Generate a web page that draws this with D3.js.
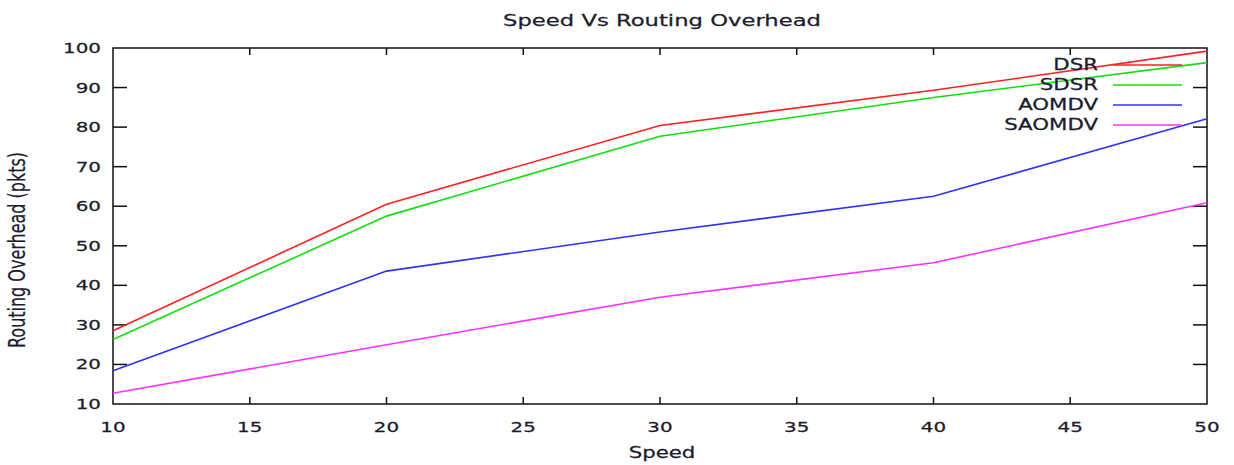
<!DOCTYPE html>
<html lang="en">
<head>
    <meta charset="UTF-8">
    <title>Speed Vs Routing Overhead</title>
    <style>
        body{margin:0;background:#fff;}
        text{font-family:"DejaVu Sans",Verdana,sans-serif;fill:#1c1c2e;stroke:#1c1c2e;stroke-width:0.25px;}
    </style>
</head>
<body>
<script src="https://cdn.jsdelivr.net/npm/d3@7/dist/d3.min.js"></script>
<script>
    // data
    var speeds=[10,20,30,40,50];
    var dsr=[28.5,60.5,80.4,89.3,99.2];
    var sdsr=[26.3,57.5,77.7,87.5,96.3];
    var aomdv=[18.4,43.6,53.5,62.5,82.1];
    var saomdv=[12.7,25.0,37.0,45.7,60.9];
    var seriesNames=["DSR","SDSR","AOMDV","SAOMDV"];
    var xTicks=[10,15,20,25,30,35,40,45,50];
    var yTicks=[10,20,30,40,50,60,70,80,90,100];

    var colors=["#ff2020","#10e010","#3030ff","#ff30ff"];
    var allSeries=[dsr,sdsr,aomdv,saomdv];

    var width=1234, height=465;
    var plotL=113, plotR=1207, plotT=48, plotB=404;
    var sx=1.42; // the original is stretched horizontally

    var svg=d3.select('body').append('svg')
            .attr('width',width)
            .attr('height',height);

    var x=d3.scaleLinear().domain([10,50]).range([plotL,plotR]);
    var y=d3.scaleLinear().domain([10,100]).range([plotB,plotT]);

    function stretchedText(px,py,str,size,anchor){
        svg.append('g')
            .attr('transform','translate('+px+','+py+') scale('+sx+',1)')
            .append('text')
            .attr('text-anchor',anchor)
            .attr('font-size',size+'px')
            .text(str);
    }

    // frame
    svg.append('rect')
        .attr('x',plotL).attr('y',plotT)
        .attr('width',plotR-plotL).attr('height',plotB-plotT)
        .attr('fill','none')
        .attr('stroke','#111')
        .attr('stroke-width',1.5);

    // inward ticks on all four sides
    var tk=svg.append('g').attr('stroke','#111').attr('stroke-width',1.5);
    xTicks.forEach(function(t){
        if(t===10||t===50) return;
        tk.append('line').attr('x1',x(t)).attr('x2',x(t)).attr('y1',plotB).attr('y2',plotB-7);
        tk.append('line').attr('x1',x(t)).attr('x2',x(t)).attr('y1',plotT).attr('y2',plotT+7);
    });
    yTicks.forEach(function(t){
        if(t===10||t===100) return;
        tk.append('line').attr('x1',plotL).attr('x2',plotL+14).attr('y1',y(t)).attr('y2',y(t));
        tk.append('line').attr('x1',plotR).attr('x2',plotR-14).attr('y1',y(t)).attr('y2',y(t));
    });

    xTicks.forEach(function(t){
        stretchedText(x(t),432,t,14,'middle');
    });
    yTicks.forEach(function(t){
        stretchedText(101,y(t)+5,t,14,'end');
    });

    // titles
    stretchedText(662,26,'Speed Vs Routing Overhead',16,'middle');
    stretchedText(662,458,'Speed',15,'middle');

    svg.append('g')
        .attr('transform','translate(25,250) scale(1.4,1) rotate(-90)')
        .append('text')
        .attr('text-anchor','middle')
        .attr('font-family','"Liberation Sans",Arial,sans-serif')
        .attr('font-size','16px')
        .style('stroke-width','0.15px')
        .text('Routing Overhead (pkts)');

    // lines
    var line=d3.line()
            .x(function(d,i){return x(speeds[i]);})
            .y(function(d){return y(d);});

    svg.selectAll('path.series')
        .data(allSeries)
        .enter()
        .append('path')
        .attr('class','series')
        .attr('d',function(d){return line(d);})
        .attr('fill','none')
        .attr('stroke',function(d,i){return colors[i];})
        .attr('stroke-width',1.6);

    // legend
    seriesNames.forEach(function(name,i){
        var ly=65+i*20;
        stretchedText(1098,ly+5,name,15,'end');
        svg.append('line')
            .attr('x1',1113).attr('x2',1182)
            .attr('y1',ly).attr('y2',ly)
            .attr('stroke',colors[i])
            .attr('stroke-width',1.6);
    });
</script>
</body>
</html>
